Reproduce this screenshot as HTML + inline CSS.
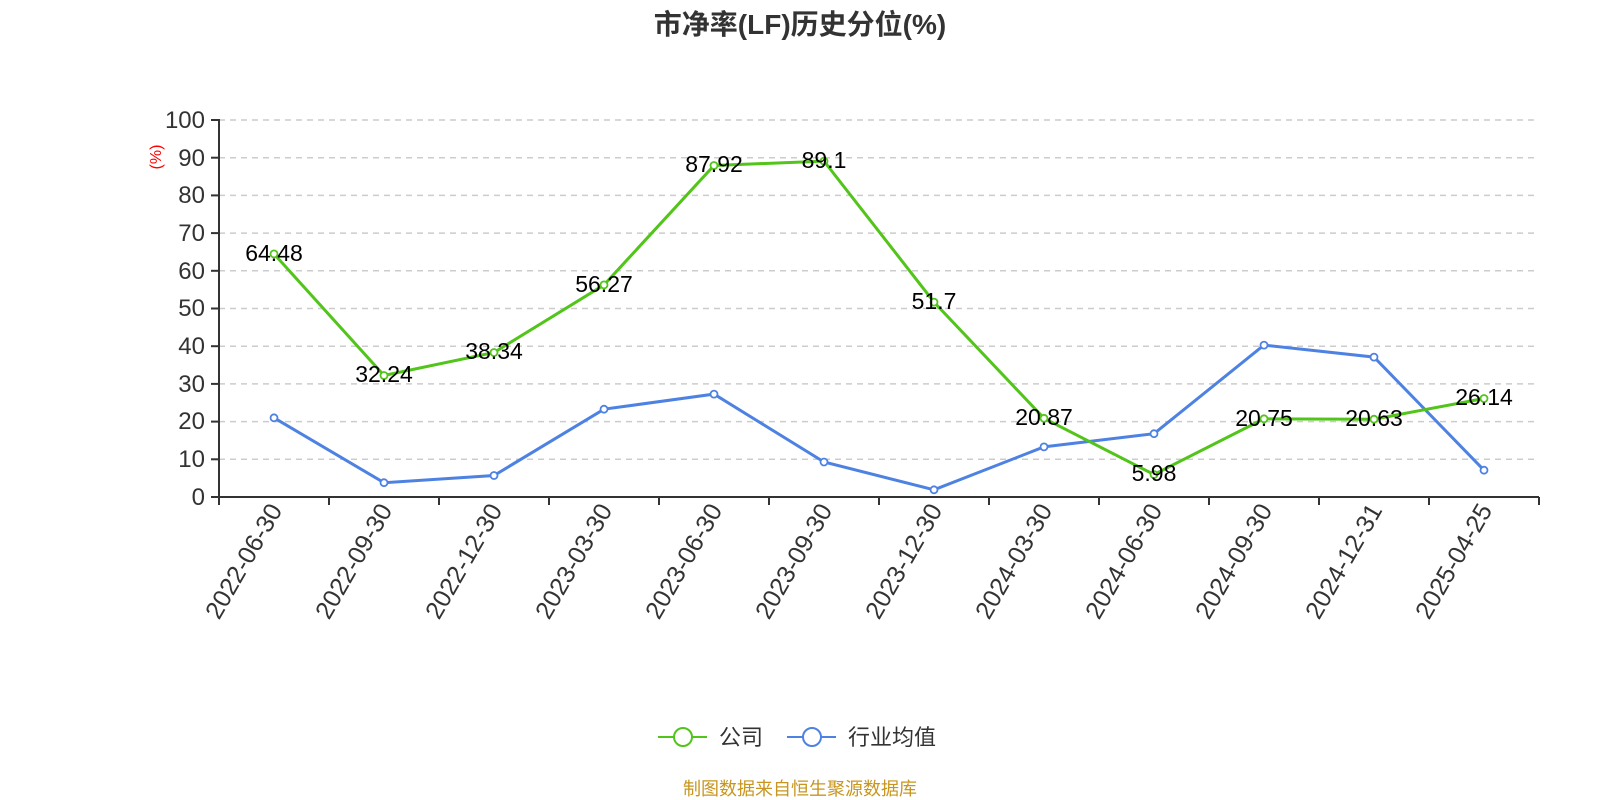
<!DOCTYPE html>
<html><head><meta charset="utf-8"><style>
html,body{margin:0;padding:0;background:#fff;}
svg{display:block;font-family:"Liberation Sans","Noto Sans CJK SC",sans-serif;}
</style></head><body>
<svg width="1600" height="800" xmlns="http://www.w3.org/2000/svg">
<text x="800" y="34" text-anchor="middle" font-size="28" font-weight="bold" fill="#333" font-family="'Liberation Sans','Noto Sans CJK SC',sans-serif">市净率(LF)历史分位(%)</text>
<g stroke="#ccc" stroke-width="1.5" stroke-dasharray="6,5">
<line x1="219" x2="1539" y1="120" y2="120"/><line x1="219" x2="1539" y1="157.7" y2="157.7"/><line x1="219" x2="1539" y1="195.4" y2="195.4"/><line x1="219" x2="1539" y1="233.1" y2="233.1"/><line x1="219" x2="1539" y1="270.8" y2="270.8"/><line x1="219" x2="1539" y1="308.5" y2="308.5"/><line x1="219" x2="1539" y1="346.2" y2="346.2"/><line x1="219" x2="1539" y1="383.9" y2="383.9"/><line x1="219" x2="1539" y1="421.6" y2="421.6"/><line x1="219" x2="1539" y1="459.3" y2="459.3"/>
</g>
<g stroke="#333" stroke-width="2">
<line x1="219" y1="119" x2="219" y2="498"/>
<line x1="218" y1="497" x2="1539" y2="497"/>
<line x1="211" x2="219" y1="120" y2="120"/><line x1="211" x2="219" y1="157.7" y2="157.7"/><line x1="211" x2="219" y1="195.4" y2="195.4"/><line x1="211" x2="219" y1="233.1" y2="233.1"/><line x1="211" x2="219" y1="270.8" y2="270.8"/><line x1="211" x2="219" y1="308.5" y2="308.5"/><line x1="211" x2="219" y1="346.2" y2="346.2"/><line x1="211" x2="219" y1="383.9" y2="383.9"/><line x1="211" x2="219" y1="421.6" y2="421.6"/><line x1="211" x2="219" y1="459.3" y2="459.3"/><line x1="211" x2="219" y1="497" y2="497"/>
<line x1="219" x2="219" y1="497" y2="505"/><line x1="329" x2="329" y1="497" y2="505"/><line x1="439" x2="439" y1="497" y2="505"/><line x1="549" x2="549" y1="497" y2="505"/><line x1="659" x2="659" y1="497" y2="505"/><line x1="769" x2="769" y1="497" y2="505"/><line x1="879" x2="879" y1="497" y2="505"/><line x1="989" x2="989" y1="497" y2="505"/><line x1="1099" x2="1099" y1="497" y2="505"/><line x1="1209" x2="1209" y1="497" y2="505"/><line x1="1319" x2="1319" y1="497" y2="505"/><line x1="1429" x2="1429" y1="497" y2="505"/><line x1="1539" x2="1539" y1="497" y2="505"/>
</g>
<g font-size="24" fill="#333" text-anchor="end">
<text x="205" y="128">100</text><text x="205" y="166">90</text><text x="205" y="203">80</text><text x="205" y="241">70</text><text x="205" y="279">60</text><text x="205" y="316">50</text><text x="205" y="354">40</text><text x="205" y="392">30</text><text x="205" y="429">20</text><text x="205" y="467">10</text><text x="205" y="505">0</text>
</g>
<text transform="translate(161,157) rotate(-90)" text-anchor="middle" font-size="16" fill="#f00">(%)</text>
<g font-size="25" fill="#333" text-anchor="end">
<text transform="translate(283,510) rotate(-60)">2022-06-30</text>
<text transform="translate(393,510) rotate(-60)">2022-09-30</text>
<text transform="translate(503,510) rotate(-60)">2022-12-30</text>
<text transform="translate(613,510) rotate(-60)">2023-03-30</text>
<text transform="translate(723,510) rotate(-60)">2023-06-30</text>
<text transform="translate(833,510) rotate(-60)">2023-09-30</text>
<text transform="translate(943,510) rotate(-60)">2023-12-30</text>
<text transform="translate(1053,510) rotate(-60)">2024-03-30</text>
<text transform="translate(1163,510) rotate(-60)">2024-06-30</text>
<text transform="translate(1273,510) rotate(-60)">2024-09-30</text>
<text transform="translate(1383,510) rotate(-60)">2024-12-31</text>
<text transform="translate(1493,510) rotate(-60)">2025-04-25</text>
</g>
<polyline fill="none" stroke="#4e82e2" stroke-width="3" points="274,417.8 384,482.7 494,475.5 604,409.2 714,394.1 824,462 934,489.8 1044,446.9 1154,433.7 1264,345.1 1374,357.1 1484,470.2"/>
<g fill="#fff" stroke="#4e82e2" stroke-width="1.8">
<circle cx="274" cy="417.8" r="3.5"/><circle cx="384" cy="482.7" r="3.5"/><circle cx="494" cy="475.5" r="3.5"/><circle cx="604" cy="409.2" r="3.5"/><circle cx="714" cy="394.1" r="3.5"/><circle cx="824" cy="462" r="3.5"/><circle cx="934" cy="489.8" r="3.5"/><circle cx="1044" cy="446.9" r="3.5"/><circle cx="1154" cy="433.7" r="3.5"/><circle cx="1264" cy="345.1" r="3.5"/><circle cx="1374" cy="357.1" r="3.5"/><circle cx="1484" cy="470.2" r="3.5"/>
</g>
<polyline fill="none" stroke="#52c41a" stroke-width="3" points="274,253.9 384,375.5 494,352.5 604,284.9 714,165.5 824,161.1 934,302.1 1044,418.3 1154,474.5 1264,418.8 1374,419.2 1484,398.5"/>
<g fill="#fff" stroke="#52c41a" stroke-width="1.8">
<circle cx="274" cy="253.9" r="3.5"/><circle cx="384" cy="375.5" r="3.5"/><circle cx="494" cy="352.5" r="3.5"/><circle cx="604" cy="284.9" r="3.5"/><circle cx="714" cy="165.5" r="3.5"/><circle cx="824" cy="161.1" r="3.5"/><circle cx="934" cy="302.1" r="3.5"/><circle cx="1044" cy="418.3" r="3.5"/><circle cx="1154" cy="474.5" r="3.5"/><circle cx="1264" cy="418.8" r="3.5"/><circle cx="1374" cy="419.2" r="3.5"/><circle cx="1484" cy="398.5" r="3.5"/>
</g>
<g font-size="23" fill="#000" text-anchor="middle">
<text x="274" y="261">64.48</text><text x="384" y="382">32.24</text><text x="494" y="359">38.34</text><text x="604" y="292">56.27</text><text x="714" y="172">87.92</text><text x="824" y="168">89.1</text><text x="934" y="309">51.7</text><text x="1044" y="425">20.87</text><text x="1154" y="481">5.98</text><text x="1264" y="426">20.75</text><text x="1374" y="426">20.63</text><text x="1484" y="405">26.14</text>
</g>
<line x1="658" y1="737" x2="707" y2="737" stroke="#52c41a" stroke-width="2"/>
<circle cx="683" cy="737" r="9" fill="#fff" stroke="#52c41a" stroke-width="2"/>
<text x="719" y="745" font-size="22" fill="#333">公司</text>
<line x1="787" y1="737" x2="836" y2="737" stroke="#4e82e2" stroke-width="2"/>
<circle cx="812" cy="737" r="9" fill="#fff" stroke="#4e82e2" stroke-width="2"/>
<text x="848" y="745" font-size="22" fill="#333">行业均值</text>
<text x="800" y="795" text-anchor="middle" font-size="18" fill="#c8961e">制图数据来自恒生聚源数据库</text>
</svg>
</body></html>
